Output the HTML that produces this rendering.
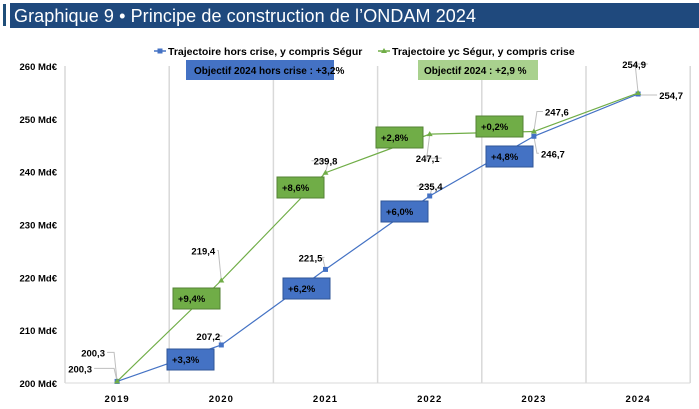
<!DOCTYPE html>
<html><head><meta charset="utf-8">
<style>
body{margin:0;background:#fff;width:699px;height:409px;overflow:hidden;font-family:"Liberation Sans",sans-serif}
svg{display:block}
</style></head>
<body>
<svg width="699" height="409" xmlns="http://www.w3.org/2000/svg">
<rect x="3" y="4" width="3" height="22" fill="#1f4e79"/>
<rect x="10" y="3" width="689" height="25" fill="#1f497d"/>
<text x="14" y="22" font-size="18" fill="#fff" textLength="462">Graphique 9 • Principe de construction de l’ONDAM 2024</text>
<g font-size="10.5" font-weight="bold" fill="#000">
<line x1="154" y1="51" x2="166" y2="51" stroke="#4472c4" stroke-width="1.5"/><rect x="157.5" y="48.5" width="5" height="5" fill="#4472c4"/>
<text x="168" y="55">Trajectoire hors crise,  y compris  Ségur</text>
<line x1="378" y1="51" x2="390" y2="51" stroke="#70ad47" stroke-width="1.5"/><path d="M384 48 L387 53 L381 53Z" fill="#70ad47"/>
<text x="392" y="55">Trajectoire yc  Ségur, y compris crise</text>
</g>
<g id="grid"></g>
<g id="axes"></g>
<rect x="186" y="60" width="148" height="20" fill="#4472c4"/>
<text x="194" y="74" font-size="10" font-weight="bold" fill="#000">Objectif 2024 hors crise : +3,2%</text>
<rect x="418" y="60" width="120" height="20" fill="#a9d18e"/>
<text x="424" y="74" font-size="10" font-weight="bold" fill="#000">Objectif 2024 : +2,9 %</text>
<g id="series"></g>
<g id="labels"></g>
</svg>
<script>
const years=["2019","2020","2021","2022","2023","2024"];
const horsCrise=[200.3,207.2,221.5,235.4,246.7,254.7];
const ycCrise=[200.3,219.4,239.8,247.1,247.6,254.9];
const horsCriseGrowth=["+3,3%","+6,2%","+6,0%","+4,8%"];
const ycCriseGrowth=["+9,4%","+8,6%","+2,8%","+0,2%"];
const yTicks=[200,210,220,230,240,250,260];
const NS="http://www.w3.org/2000/svg";
const x0=65,step=104.2,yMin=200,yMax=260,yTop=66,yBot=383;
const X=i=>x0+step*(i+0.5);
const Y=v=>yBot-(v-yMin)/(yMax-yMin)*(yBot-yTop);
const fmt=v=>v.toFixed(1).replace('.',',');
function mk(tag,attrs,parent,txt){const e=document.createElementNS(NS,tag);for(const k in attrs)e.setAttribute(k,attrs[k]);if(txt!==undefined)e.textContent=txt;document.getElementById(parent).appendChild(e);return e;}
for(let i=0;i<=years.length;i++){const l=mk('line',{x1:x0+step*i,x2:x0+step*i,y1:yTop,y2:yBot,stroke:'#d9d9d9','stroke-width':1.5},'grid');

}
const ax=mk('line',{x1:x0,x2:x0+step*6,y1:yBot,y2:yBot,stroke:'#d9d9d9','stroke-width':1},'axes');


yTicks.forEach(t=>{const e=mk('text',{x:57,y:Y(t)+4,'font-size':9.5,'font-weight':'bold','text-anchor':'end'},'axes',t+' Md€');

});
years.forEach((y,i)=>{const e=mk('text',{x:X(i),y:402,'font-size':9.5,'font-weight':'bold','text-anchor':'middle','letter-spacing':'1'},'axes',y);

});
function series(vals,color,name){const p=mk('polyline',{points:vals.map((v,i)=>X(i)+','+Y(v)).join(' '),fill:'none',stroke:color,'stroke-width':1.2},'series');


vals.forEach((v,i)=>{let m;if(name==='hors-crise'){m=mk('rect',{x:X(i)-2.5,y:Y(v)-2.5,width:5,height:5,fill:color},'series');}else{m=mk('path',{d:`M${X(i)} ${Y(v)-3}L${X(i)+3} ${Y(v)+2}L${X(i)-3} ${Y(v)+2}Z`,fill:color},'series');}

});}
const gBoxes=[[173,288],[277,177],[376,127],[476,116]];
const bBoxes=[[167,349],[283,278],[381,201],[486,146]];
function boxes(list,vals,fill,stroke,name){list.forEach((b,i)=>{const r=mk('rect',{x:b[0],y:b[1],width:47,height:21,fill:fill,stroke:stroke},'labels');


const t=mk('text',{x:b[0]+5,y:b[1]+14,'font-size':9.5,'font-weight':'bold'},'labels',vals[i]);

});}
const gOff=[[-24,-25],[-18,-26],[0,-8],[-2,28],[23,-16],[-4,-25]];
const bOff=[[-37,-9],[-13,-5],[-15,-8],[1,-6],[19,21],[33,5]];
function vlabels(vals,off,name){vals.forEach((v,i)=>{
const lx=X(i)+off[i][0],ly=Y(v)+off[i][1]-4;
const ln=mk('polyline',{points:`${lx+(off[i][0]<0?14:-14)},${ly} ${X(i)+(off[i][0]<0?-3:3)},${ly} ${X(i)},${Y(v)}`,fill:'none',stroke:'#bfbfbf','stroke-width':1},'series');


const t=mk('text',{x:lx,y:Y(v)+off[i][1],'font-size':9.5,'font-weight':'bold','text-anchor':'middle'},'labels',fmt(v));

});}
vlabels(ycCrise,gOff,'yc-crise');
vlabels(horsCrise,bOff,'hors-crise');
series(horsCrise,'#4472c4','hors-crise');
series(ycCrise,'#70ad47','yc-crise');
boxes(gBoxes,ycCriseGrowth,'#70ad47','#548235','yc-crise');
boxes(bBoxes,horsCriseGrowth,'#4472c4','#2f5597','hors-crise');
</script>
</body></html>
